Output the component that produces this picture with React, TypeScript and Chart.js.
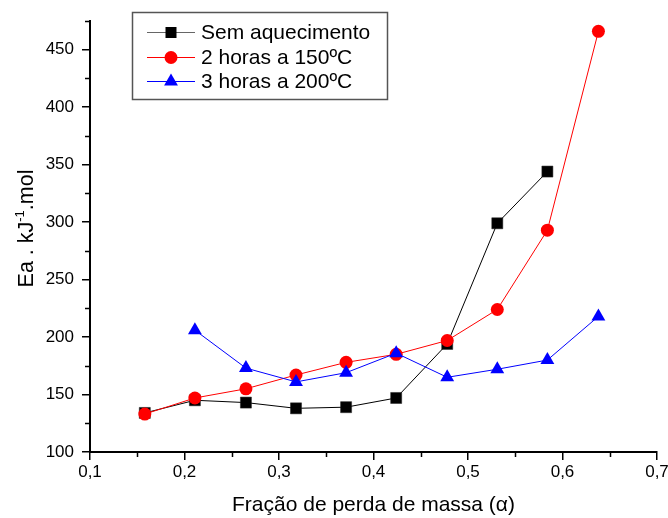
import React, { useEffect, useRef } from "react";
import { Chart, registerables } from "chart.js";

Chart.register(...registerables);

// ---- data ----
const alpha = [0.158, 0.211, 0.265, 0.318, 0.371, 0.424, 0.478, 0.531, 0.584, 0.638];
const semAquecimento: (number | null)[] = [134, 145, 143, 138, 139, 147, 194, 299, 344, null];
const duasHoras150: (number | null)[] = [133, 147, 155, 167, 178, 185, 197, 224, 293, 466];
const tresHoras200: (number | null)[] = [null, 206, 173, 161, 169, 186, 165, 172, 180, 218];

const seriesNames = ["Sem aquecimento", "2 horas a 150ºC", "3 horas a 200ºC"];
const xTitle = "Fração de perda de massa (α)";
const yTitleMain = "Ea . kJ";
const yTitleSup = "-1";
const yTitleEnd = ".mol";

const xMinorTicks = [0.15, 0.25, 0.35, 0.45, 0.55, 0.65];
const yMinorTicks = [125, 175, 225, 275, 325, 375, 425, 475];

const FONT = "'Liberation Sans', Arial, sans-serif";

const toPoints = (vals: (number | null)[]) =>
  alpha
    .map((x, i) => ({ x, y: vals[i] }))
    .filter((p) => p.y !== null) as { x: number; y: number }[];

function drawMarker(ctx: CanvasRenderingContext2D, style: string, x: number, y: number, color: string) {
  ctx.save();
  ctx.fillStyle = color;
  ctx.beginPath();
  if (style === "rect") {
    ctx.rect(x - 5.5, y - 5.5, 11, 11);
  } else if (style === "circle") {
    ctx.arc(x, y, 6.5, 0, Math.PI * 2);
  } else {
    const r = 8;
    ctx.moveTo(x, y - r);
    ctx.lineTo(x + r * Math.sin((2 * Math.PI) / 3), y + r / 2);
    ctx.lineTo(x - r * Math.sin((2 * Math.PI) / 3), y + r / 2);
    ctx.closePath();
  }
  ctx.fill();
  ctx.restore();
}

const decorPlugin = {
  id: "decor",
  afterDraw(chart: any) {
    const ctx: CanvasRenderingContext2D = chart.ctx;
    const { left, bottom, top } = chart.chartArea;
    const xs = chart.scales.x;
    const ys = chart.scales.y;
    ctx.save();
    // minor ticks
    ctx.strokeStyle = "#000";
    ctx.lineWidth = 1.5;
    ctx.beginPath();
    xMinorTicks.forEach((v) => {
      const px = Math.round(xs.getPixelForValue(v)) + 0.5;
      ctx.moveTo(px, bottom);
      ctx.lineTo(px, bottom + 5);
    });
    yMinorTicks.forEach((v) => {
      const py = Math.round(ys.getPixelForValue(v)) + 0.5;
      ctx.moveTo(left - 5, py);
      ctx.lineTo(left, py);
    });
    ctx.stroke();

    // y title with superscript
    const mainFont = `21.5px ${FONT}`;
    const supFont = `13px ${FONT}`;
    ctx.font = mainFont;
    const w1 = ctx.measureText(yTitleMain).width;
    const w3 = ctx.measureText(yTitleEnd).width;
    ctx.font = supFont;
    const w2 = ctx.measureText(yTitleSup).width;
    const total = w1 + w2 + w3;
    ctx.translate(33, (top + bottom) / 2 - 8);
    ctx.rotate(-Math.PI / 2);
    ctx.fillStyle = "#000";
    ctx.textBaseline = "alphabetic";
    ctx.textAlign = "left";
    let cx = -total / 2;
    ctx.font = mainFont;
    ctx.fillText(yTitleMain, cx, 0);
    cx += w1;
    ctx.font = supFont;
    ctx.fillText(yTitleSup, cx, -9);
    cx += w2;
    ctx.font = mainFont;
    ctx.fillText(yTitleEnd, cx, 0);
    ctx.restore();

    // legend
    ctx.save();
    ctx.strokeStyle = "#555";
    ctx.lineWidth = 1.5;
    ctx.strokeRect(132.5, 12.5, 255, 87);
    const entries = [
      { name: seriesNames[0], color: "#000", line: "#666", style: "rect" },
      { name: seriesNames[1], color: "#ff0000", line: "#ff0000", style: "circle" },
      { name: seriesNames[2], color: "#0000ff", line: "#0000ff", style: "triangle" },
    ];
    const ys2 = [32, 57, 81];
    entries.forEach((e, i) => {
      const y = ys2[i];
      ctx.strokeStyle = e.line;
      ctx.lineWidth = 1;
      ctx.beginPath();
      ctx.moveTo(147, y + 0.5);
      ctx.lineTo(195, y + 0.5);
      ctx.stroke();
      drawMarker(ctx, e.style, 171, y + 0.5, e.color);
      ctx.fillStyle = "#000";
      ctx.font = `21px ${FONT}`;
      ctx.textBaseline = "middle";
      ctx.textAlign = "left";
      ctx.fillText(e.name, 201, y + 1);
    });
    ctx.restore();
  },
};

export default function App() {
  const ref = useRef<HTMLCanvasElement | null>(null);
  useEffect(() => {
    document.body.style.margin = "0";
    const canvas = ref.current!;
    const chart = new Chart(canvas, {
      type: "scatter",
      data: {
        datasets: [
          {
            label: seriesNames[0],
            data: toPoints(semAquecimento),
            showLine: true,
            borderColor: "#000",
            backgroundColor: "#000",
            borderWidth: 1,
            pointStyle: "rect",
            pointRadius: 7.8,
            pointBorderColor: "#222",
            pointBorderWidth: 0.5,
            order: 3,
          },
          {
            label: seriesNames[1],
            data: toPoints(duasHoras150),
            showLine: true,
            borderColor: "#ff0000",
            backgroundColor: "#ff0000",
            borderWidth: 1,
            pointStyle: "circle",
            pointRadius: 6.5,
            pointBorderWidth: 0,
            order: 2,
          },
          {
            label: seriesNames[2],
            data: toPoints(tresHoras200),
            showLine: true,
            borderColor: "#0000ff",
            backgroundColor: "#0000ff",
            borderWidth: 1,
            pointStyle: "triangle",
            pointRadius: 8,
            pointBorderWidth: 0,
            order: 1,
          },
        ] as any,
      },
      options: {
        responsive: false,
        animation: false,
        events: [],
        layout: { padding: { top: 21, right: 11, left: 0, bottom: 0 } },
        plugins: {
          legend: { display: false },
          tooltip: { enabled: false },
          title: { display: false },
        },
        scales: {
          x: {
            type: "linear",
            min: 0.1,
            max: 0.7,
            ticks: {
              stepSize: 0.1,
              color: "#000",
              font: { family: FONT, size: 17 },
              padding: 2,
              maxRotation: 0,
              includeBounds: true,
              callback: (v: any) => Number(v).toFixed(1).replace(".", ","),
            },
            grid: {
              drawOnChartArea: false,
              drawTicks: true,
              tickLength: 8,
              color: "#000",
              lineWidth: 1.5,
            },
            border: { display: true, color: "#000", width: 2 },
            title: {
              display: true,
              text: xTitle,
              color: "#000",
              font: { family: FONT, size: 21 },
              padding: { top: 0, bottom: 0 },
            },
            afterFit: (s: any) => {
              s.height = 66;
              s.paddingLeft = 0;
              s.paddingRight = 0;
            },
          },
          y: {
            type: "linear",
            min: 100,
            max: 475,
            ticks: {
              stepSize: 50,
              includeBounds: false,
              color: "#000",
              font: { family: FONT, size: 17 },
              padding: 8,
            },
            grid: {
              drawOnChartArea: false,
              drawTicks: true,
              tickLength: 8,
              color: "#000",
              lineWidth: 1.5,
            },
            border: { display: true, color: "#000", width: 2 },
            title: { display: false },
            afterFit: (s: any) => {
              s.width = 90;
              s.paddingTop = 0;
              s.paddingBottom = 0;
            },
          },
        },
      } as any,
      plugins: [decorPlugin],
    });
    return () => chart.destroy();
  }, []);
  return <canvas ref={ref} width={668} height={518} style={{ display: "block" }} />;
}
